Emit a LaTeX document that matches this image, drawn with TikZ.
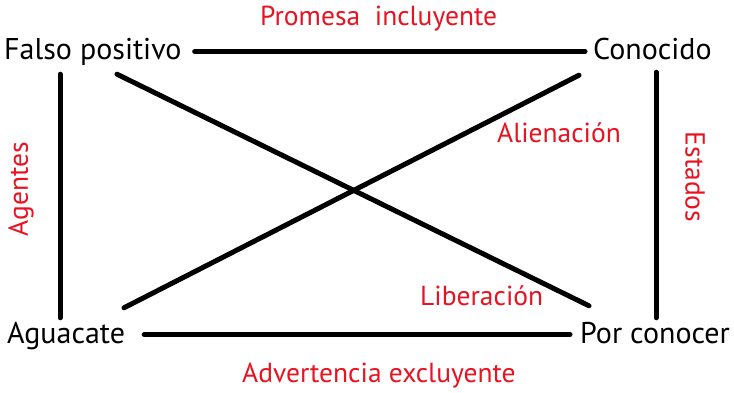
\documentclass[tikz,border=0pt]{standalone}
\usepackage{fontspec}
\setmainfont{PT Sans}
\usetikzlibrary{calc}
\definecolor{lblred}{RGB}{232,18,32}
\begin{document}
\begin{tikzpicture}[x=1pt,y=-1pt,
  term/.style={inner sep=0pt, text height=22pt, text depth=7pt, anchor=base west, font=\fontsize{30}{32}\selectfont},
  lbl/.style={inner sep=0pt, text=lblred, font=\fontsize{27.5}{30}\selectfont},
  edge/.style={line width=5pt, line cap=round}]
\useasboundingbox (0,0) rectangle (734,393);
\node[term] (fp) at (4,60) {Falso positivo};
\node[term] (con) at (593,60) {Conocido};
\node[term] (ag) at (7,343) {Aguacate};
\node[term] (pc) at (580,343) {Por conocer};

\draw[edge] ($(fp.east)+(13,-1)$) -- ($(con.west)+(-8,-1)$);
\draw[edge] ($(ag.east)+(19,-1)$) -- ($(pc.west)+(-10,-1)$);
\draw[edge] ($(fp.south west)+(56,7)$) -- ($(ag.north west)+(53,-3)$);
\draw[edge] ($(con.south west)+(63,5)$) -- ($(pc.north west)+(76,-3)$);
\draw[edge] ($(fp.south west)+(113,7)$) -- ($(pc.north west)+(9,-15)$);
\draw[edge] ($(con.south west)+(-14,8)$) -- ($(ag.north west)+(117,-13)$);

\node[lbl, anchor=base west] (l1) at (260,26) {Promesa\ \ incluyente};
\node[lbl, anchor=base west] (l2) at (497,143) {Alienación};
\node[lbl, anchor=base west] (l3) at (420,305) {Liberación};
\node[lbl, anchor=base west] (l4) at (242,382) {Advertencia excluyente};
\node[lbl, rotate=90] (l5) at (21,189) {Agentes};
\node[lbl, rotate=-90] (l6) at (695,177) {Estados};
\end{tikzpicture}
\end{document}
